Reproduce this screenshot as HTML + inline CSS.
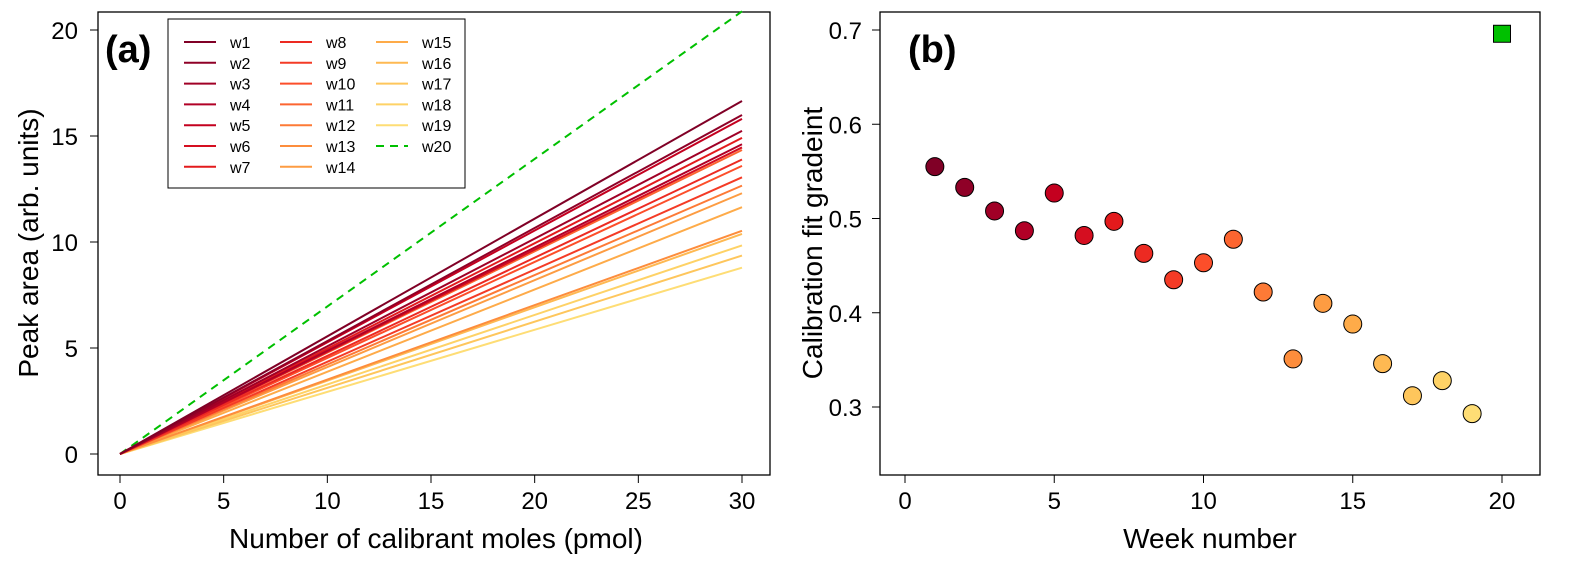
<!DOCTYPE html>
<html><head><meta charset="utf-8"><style>
body{margin:0;background:#fff;}
svg text{font-family:"Liberation Sans",Arial,sans-serif;fill:#000;}
</style></head><body>
<svg id="fig" width="1596" height="572" viewBox="0 0 1596 572" xmlns="http://www.w3.org/2000/svg">
<g id="pa"></g>
<g id="pb"></g>
</svg>
<script>
const weeks=["w1","w2","w3","w4","w5","w6","w7","w8","w9","w10","w11","w12","w13","w14","w15","w16","w17","w18","w19","w20"];
const weekNums=[1,2,3,4,5,6,7,8,9,10,11,12,13,14,15,16,17,18,19,20];
const gradients=[0.555,0.533,0.508,0.487,0.527,0.482,0.497,0.463,0.435,0.453,0.478,0.422,0.351,0.410,0.388,0.346,0.312,0.328,0.293,0.696];
const colors=["#800026","#8f0027","#a00026","#b10026","#c4001f","#d50e20","#e31a1c","#ec2a22","#f43b26","#fc4e2a","#fc6530","#fd7a36","#fd8d3c","#fd9c42","#feab49","#feb952","#fec65c","#fed266","#fedd75","#00c000"];
const xTicksA=[0,5,10,15,20,25,30];
const yTicksA=[0,5,10,15,20];
const xTicksB=[0,5,10,15,20];
const yTicksB=[0.3,0.4,0.5,0.6,0.7];
const xMaxA=30;

const NS="http://www.w3.org/2000/svg";
function mk(p,t,a,txt){const e=document.createElementNS(NS,t);for(const k in a)e.setAttribute(k,a[k]);if(txt!==undefined)e.textContent=txt;p.appendChild(e);return e;}

// Panel A
const pa=document.getElementById('pa');
const xA=v=>120+(742-120)*v/30, yA=v=>454-(454-30)*v/20;
let e=mk(pa,'rect',{x:98,y:12,width:672,height:463,fill:'none',stroke:'#000','stroke-width':1.3});

xTicksA.forEach(t=>{mk(pa,'line',{x1:xA(t),x2:xA(t),y1:475,y2:483,stroke:'#000'});
 e=mk(pa,'text',{x:xA(t),y:509,'font-size':24,'text-anchor':'middle'},t);
 });
yTicksA.forEach(t=>{mk(pa,'line',{x1:90,x2:98,y1:yA(t),y2:yA(t),stroke:'#000'});
 e=mk(pa,'text',{x:78,y:yA(t)+9,'font-size':24,'text-anchor':'end'},t);
 });
e=mk(pa,'text',{x:436,y:548,'font-size':28,'text-anchor':'middle'},'Number of calibrant moles  (pmol)');

e=mk(pa,'text',{x:0,y:0,'font-size':28,'text-anchor':'middle',transform:'translate(38,243) rotate(-90)'},'Peak area  (arb. units)');

e=mk(pa,'text',{x:105,y:62,'font-size':38,'font-weight':'bold'},'(a)');

for(let i=weeks.length-1;i>=0;i--){
 e=mk(pa,'line',{x1:xA(0),y1:yA(0),x2:xA(xMaxA),y2:yA(gradients[i]*xMaxA),stroke:colors[i],'stroke-width':2,'stroke-dasharray':i===19?'8,6':'none'});
 
}
// legend
const lg=mk(pa,'g',{});

mk(lg,'rect',{x:168,y:19,width:297,height:169,fill:'#fff',stroke:'#000','stroke-width':1});
weeks.forEach((w,i)=>{const c=Math.floor(i/7),r=i%7;const lx=184+c*96,ly=42+r*20.8;
 const g=mk(lg,'g',{});
 
 mk(g,'line',{x1:lx,x2:lx+32,y1:ly,y2:ly,stroke:colors[i],'stroke-width':2,'stroke-dasharray':i===19?'8,6':'none'});
 mk(g,'text',{x:lx+46,y:ly+6,'font-size':16},w);});

// Panel B
const pb=document.getElementById('pb');
const xB=v=>905+(1502-905)*v/20, yB=v=>407-(407-30)*(v-0.3)/0.4;
e=mk(pb,'rect',{x:880,y:12,width:660,height:463,fill:'none',stroke:'#000','stroke-width':1.3});

xTicksB.forEach(t=>{mk(pb,'line',{x1:xB(t),x2:xB(t),y1:475,y2:483,stroke:'#000'});
 e=mk(pb,'text',{x:xB(t),y:509,'font-size':24,'text-anchor':'middle'},t);
 });
yTicksB.forEach(t=>{mk(pb,'line',{x1:872,x2:880,y1:yB(t),y2:yB(t),stroke:'#000'});
 e=mk(pb,'text',{x:862,y:yB(t)+9,'font-size':24,'text-anchor':'end'},t.toFixed(1));
 });
e=mk(pb,'text',{x:1210,y:548,'font-size':28,'text-anchor':'middle'},'Week number');

e=mk(pb,'text',{x:0,y:0,'font-size':28,'text-anchor':'middle',transform:'translate(822,243) rotate(-90)'},'Calibration fit gradeint');

e=mk(pb,'text',{x:908,y:62,'font-size':38,'font-weight':'bold'},'(b)');

weekNums.forEach((w,i)=>{
 if(i===19){e=mk(pb,'rect',{x:xB(w)-8.5,y:yB(gradients[i])-8.5,width:17,height:17,fill:colors[i],stroke:'#000','stroke-width':1});}
 else{e=mk(pb,'circle',{cx:xB(w),cy:yB(gradients[i]),r:9,fill:colors[i],stroke:'#000','stroke-width':1});}
 
});
</script>
</body></html>
